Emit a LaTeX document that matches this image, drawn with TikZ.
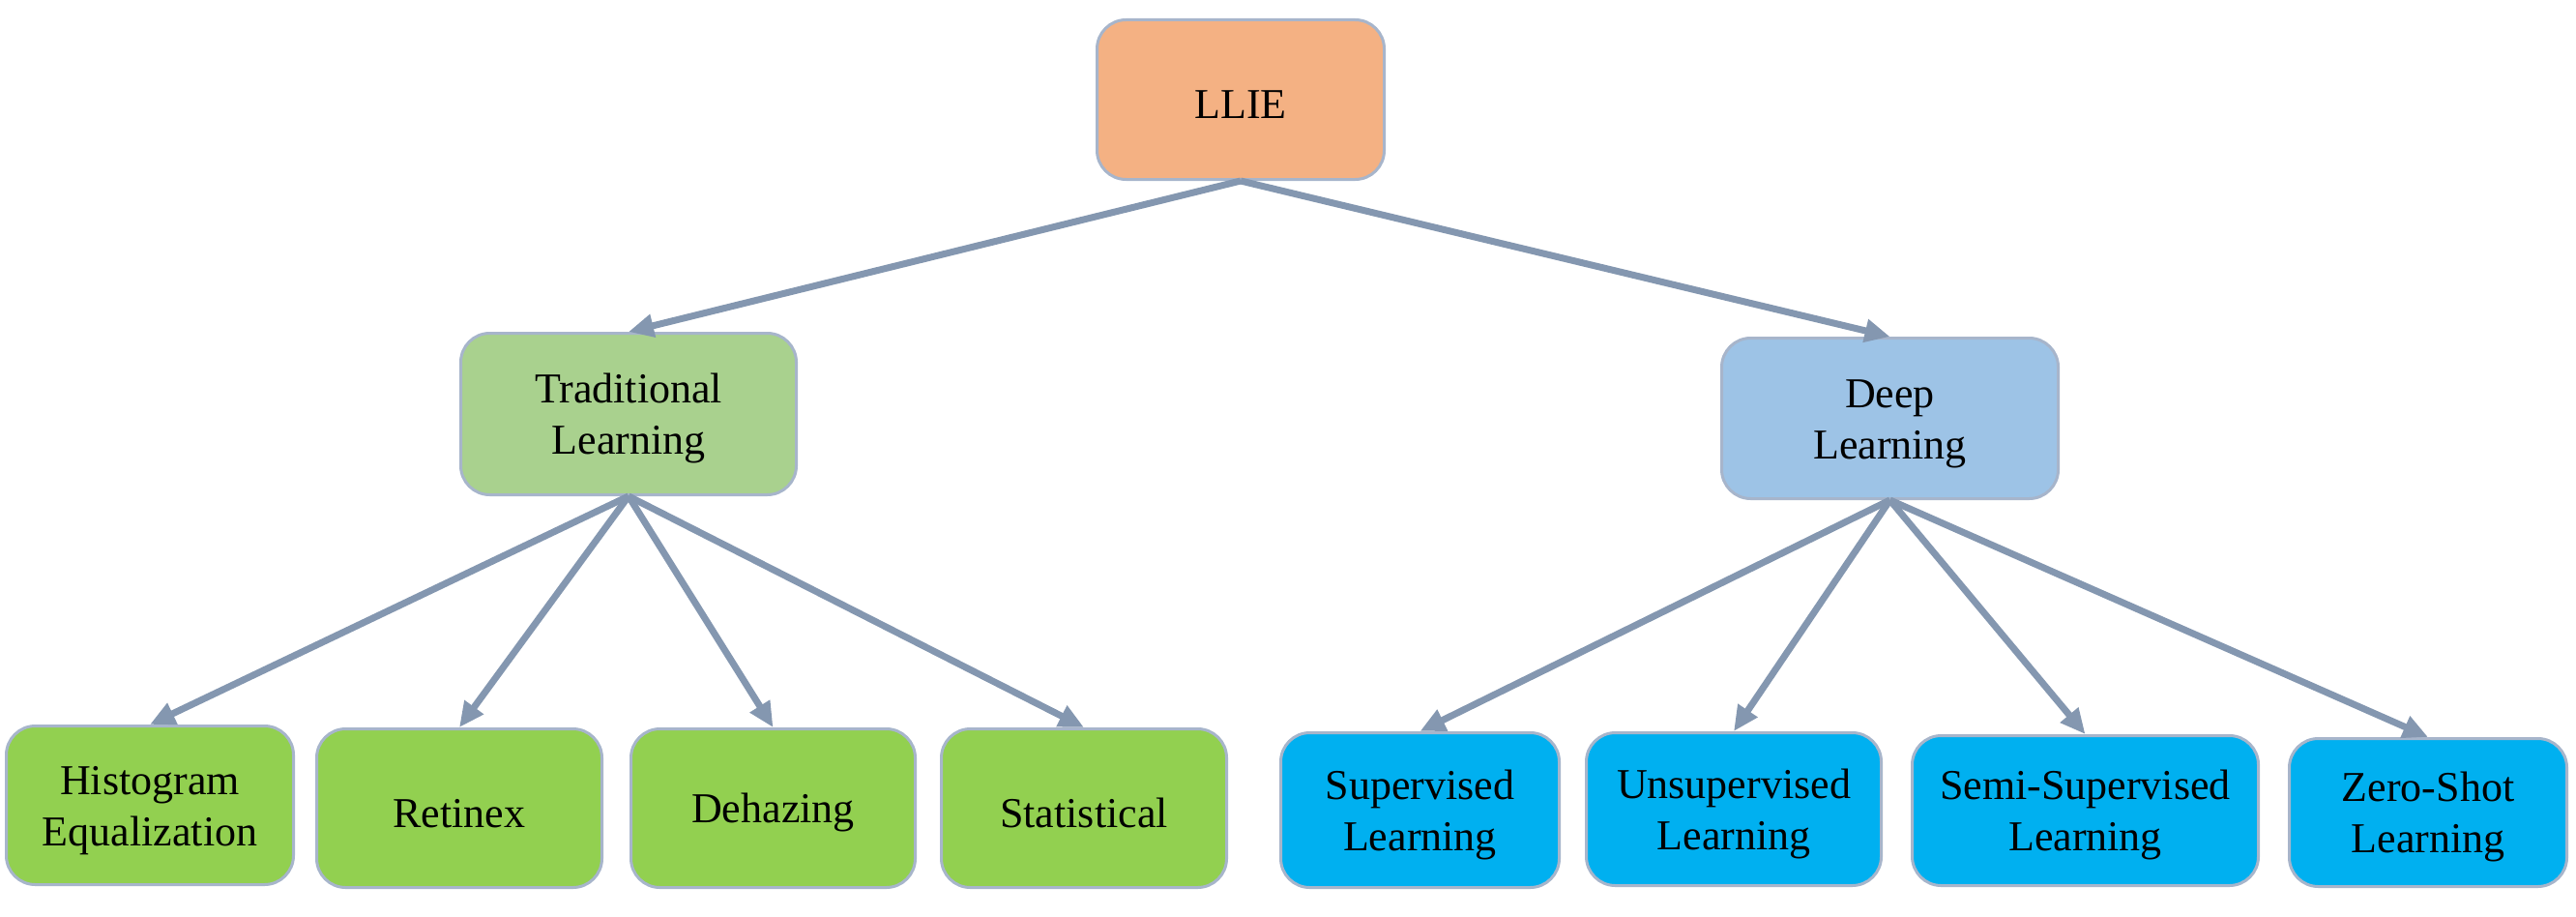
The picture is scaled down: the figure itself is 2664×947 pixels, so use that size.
\documentclass[tikz,border=0pt]{standalone}
\usepackage{fontspec}
\setmainfont{Liberation Serif}
\usetikzlibrary{arrows.meta}
\definecolor{edgec}{HTML}{8497B0}
\definecolor{bord}{HTML}{A7B5CB}
\definecolor{cllie}{HTML}{F4B183}
\definecolor{ctrad}{HTML}{A9D18E}
\definecolor{cdeep}{HTML}{9DC3E6}
\definecolor{cgreen}{HTML}{92D050}
\definecolor{cblue}{HTML}{00B0F0}
\newcommand{\upstrut}{\rule{0pt}{20pt}}
\begin{document}
\begin{tikzpicture}[x=0.5pt,y=-0.5pt,
  box/.style={draw=bord, line width=1.5pt, rounded corners=15pt, align=center,
    inner sep=0pt, font=\fontsize{22}{26.5}\selectfont},
  conn/.style={draw=edgec, line width=3.5pt, -{Triangle[length=13pt,width=11.5pt]}}]
\useasboundingbox (0,0) rectangle (2664,947);
\node[box, fill=cllie, minimum width=148.5pt, minimum height=82.5pt] (llie) at (1283,103) {\upstrut LLIE};
\node[box, fill=ctrad, minimum width=173.5pt, minimum height=83.5pt] (trad) at (650,428) {\upstrut Traditional\\Learning};
\node[box, fill=cdeep, minimum width=174pt, minimum height=83pt] (deep) at (1954.5,432.5) {\upstrut Deep\\Learning};
\node[box, fill=cgreen, minimum width=148.5pt, minimum height=82pt] (hist) at (155,832.5) {\upstrut Histogram\\Equalization};
\node[box, fill=cgreen, minimum width=147.5pt, minimum height=82pt] (ret) at (475,835.5) {\upstrut Retinex};
\node[box, fill=cgreen, minimum width=147pt, minimum height=82pt] (dehaz) at (799.5,835.5) {\upstrut Dehazing};
\node[box, fill=cgreen, minimum width=147.5pt, minimum height=82pt] (stat) at (1121,835.5) {\upstrut Statistical};
\node[box, fill=cblue, minimum width=144pt, minimum height=80pt] (sup) at (1468.5,837.5) {\upstrut Supervised\\Learning};
\node[box, fill=cblue, minimum width=152.5pt, minimum height=79pt] (unsup) at (1793,836.5) {\upstrut Unsupervised\\Learning};
\node[box, fill=cblue, minimum width=179pt, minimum height=77.5pt] (semi) at (2156.5,838) {\upstrut Semi-Supervised\\Learning};
\node[box, fill=cblue, minimum width=143.5pt, minimum height=76.5pt] (zero) at (2511,840) {\upstrut Zero-Shot\\Learning};
\draw[conn] (llie.south) -- (trad.north);
\draw[conn] (llie.south) -- (deep.north);
\draw[conn] (trad.south) -- (hist.north);
\draw[conn] (trad.south) -- (ret.north);
\draw[conn] (trad.south) -- (dehaz.north);
\draw[conn] (trad.south) -- (stat.north);
\draw[conn] (deep.south) -- (sup.north);
\draw[conn] (deep.south) -- (unsup.north);
\draw[conn] (deep.south) -- (semi.north);
\draw[conn] (deep.south) -- (zero.north);
\end{tikzpicture}
\end{document}
